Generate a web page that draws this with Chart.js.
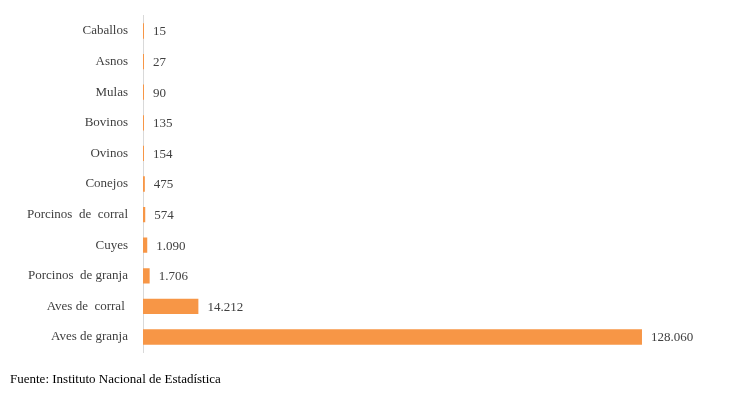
<!DOCTYPE html>
<html>
<head>
<meta charset="utf-8">
<script src="https://cdn.jsdelivr.net/npm/chart.js@4/dist/chart.umd.min.js"></script>
</head>
<body style="margin:0;padding:0;background:#fff;">
<div style="position:relative;width:734px;height:395px;">
<canvas id="c" width="734" height="395"></canvas>
<div style="position:absolute;left:10px;top:371px;font-family:'Liberation Serif',serif;font-size:13px;color:#000;">Fuente: Instituto Nacional de Estadística</div>
</div>
<script>
const categories = ["Caballos","Asnos","Mulas","Bovinos","Ovinos","Conejos","Porcinos  de  corral","Cuyes","Porcinos  de granja","Aves de  corral ","Aves de granja"];
const values = [15,27,90,135,154,475,574,1090,1706,14212,128060];
const axisMax = 140000;
const FONT = 'Liberation Serif';

function fmt(v){ return v.toString().replace(/\B(?=(\d{3})+(?!\d))/g,"."); }

const labelPlugin = {
  id:'valueLabels',
  afterDatasetsDraw(chart){
    const ctx = chart.ctx;
    const meta = chart.getDatasetMeta(0);
    ctx.save();
    ctx.font = '13px ' + FONT;
    ctx.fillStyle = '#404040';
    ctx.textAlign = 'left';
    ctx.textBaseline = 'middle';
    meta.data.forEach((bar,i)=>{
      ctx.fillText(fmt(values[i]), Math.max(bar.x, bar.base+1) + 9, bar.y+1);
    });
    ctx.restore();
  }
};

Chart.defaults.font.family = FONT;
new Chart(document.getElementById('c'),{
  type:'bar',
  data:{labels:categories,datasets:[{data:values,backgroundColor:'#F79646',borderWidth:0,minBarLength:1,barPercentage:0.5,categoryPercentage:1}]},
  options:{
    indexAxis:'y',
    responsive:false,
    animation:false,
    layout:{padding:{top:15.7,bottom:42.7,right:45.5,left:0}},
    plugins:{legend:{display:false},tooltip:{enabled:false}},
    scales:{
      x:{display:false,min:0,max:axisMax},
      y:{
        afterFit(s){ s.width = 143; s.paddingTop = 0; s.paddingBottom = 0; },
        grid:{display:false,drawTicks:false},
        border:{display:true,color:'#d9d9d9',width:1},
        ticks:{padding:15,color:'#404040',font:{family:FONT,size:13}}
      }
    }
  },
  plugins:[labelPlugin]
});
</script>
</body>
</html>
